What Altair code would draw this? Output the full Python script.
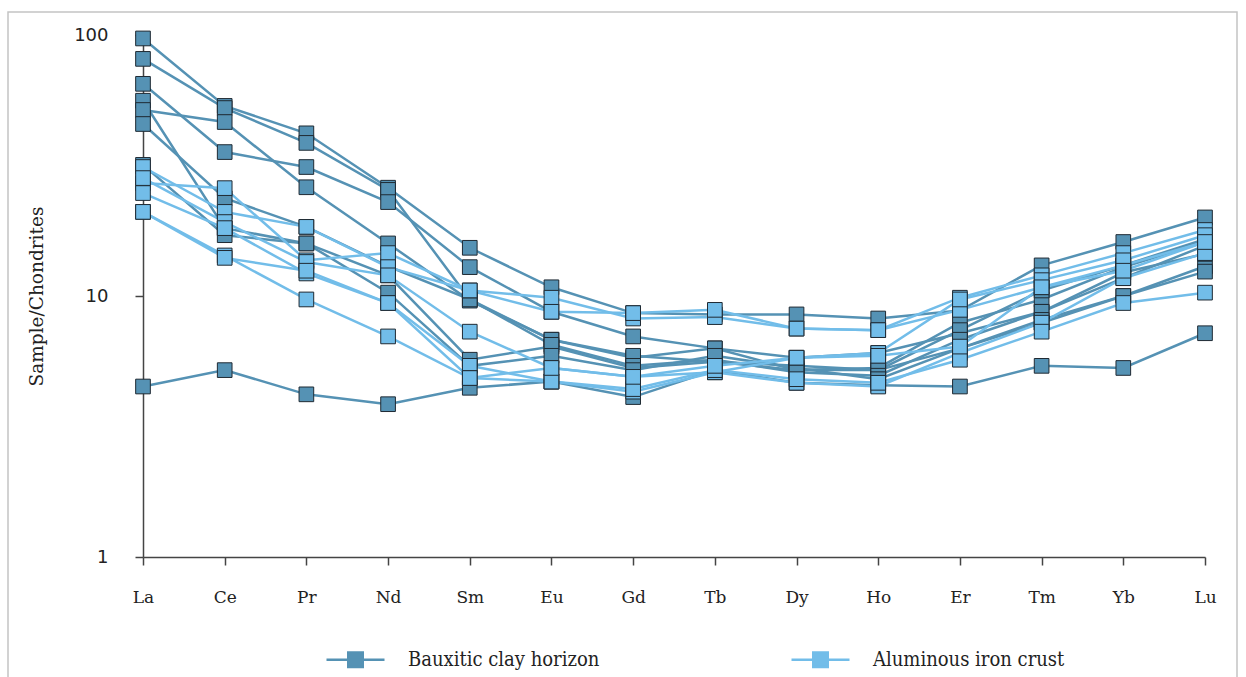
import altair as alt
import pandas as pd

elements = ["La", "Ce", "Pr", "Nd", "Sm", "Eu", "Gd", "Tb", "Dy", "Ho", "Er", "Tm", "Yb", "Lu"]
groups = ["Bauxitic clay horizon", "Aluminous iron crust"]
colors = ["#5592b4", "#72bde9"]

# Bauxitic clay horizon samples (chondrite-normalised)
clay_1 = [97, 53.5, 42, 26, 15.3, 10.8, 8.6, 8.5, 8.5, 8.2, 8.8, 13.1, 16.1, 20]
clay_2 = [81, 52.5, 38.6, 25.5, 9.7, 6.8, 5.8, 6.3, 5.2, 5.3, 7.9, 9.7, 12.9, 16.1]
clay_3 = [65, 35.6, 31.2, 22.9, 12.9, 8.7, 7.0, 6.3, 5.8, 6.05, 7.2, 8.7, 11.7, 15.6]
clay_4 = [56, 18.2, 15.9, 12.0, 5.7, 6.4, 5.3, 5.6, 5.2, 5.2, 6.3, 7.9, 10.0, 13.0]
clay_5 = [51.6, 46.4, 26.1, 15.9, 9.6, 6.8, 5.9, 5.6, 5.4, 5.2, 7.4, 10.5, 13.1, 16.5]
clay_6 = [45.6, 23.7, 18.4, 13.0, 9.7, 6.5, 5.4, 5.7, 5.1, 4.95, 6.8, 8.7, 12.3, 14.5]
clay_7 = [31.8, 17.1, 15.9, 10.3, 5.4, 5.9, 5.2, 5.9, 5.3, 4.8, 6.3, 8.1, 10.0, 12.4]
clay_8 = [4.5, 5.2, 4.2, 3.85, 4.45, 4.7, 4.1, 5.2, 4.65, 4.55, 4.5, 5.4, 5.3, 7.2]

# Aluminous iron crust samples
crust_1 = [27.1, 25.9, 13.7, 14.6, 10.5, 9.85, 8.2, 8.3, 7.5, 7.4, 9.85, 12.0, 14.6, 17.9]
crust_2 = [31.2, 21.0, 18.4, 12.9, 10.5, 8.7, 8.6, 8.85, 7.5, 7.4, 8.85, 10.8, 13.1, 16.1]
crust_3 = [28.3, 19.2, 13.5, 12.0, 7.3, 5.3, 4.9, 5.1, 5.8, 6.05, 9.7, 11.5, 13.7, 17.1]
crust_4 = [24.8, 18.2, 12.2, 9.4, 5.4, 4.7, 4.3, 5.1, 4.65, 4.5, 6.05, 7.9, 11.7, 14.6]
crust_5 = [21.0, 14.3, 9.7, 7.0, 4.85, 4.7, 4.4, 5.2, 4.8, 4.65, 5.7, 7.3, 9.4, 10.3]
crust_6 = [21.0, 14.0, 12.5, 9.4, 4.85, 5.3, 4.9, 5.4, 5.8, 5.9, 6.4, 10.8, 12.5, 16.1]

clay = [clay_1, clay_2, clay_3, clay_4, clay_5, clay_6, clay_7, clay_8]
crust = [crust_1, crust_2, crust_3, crust_4, crust_5, crust_6]

rows = []
for gname, samples in [(groups[0], clay), (groups[1], crust)]:
    for si, vals in enumerate(samples):
        for ei, (el, v) in enumerate(zip(elements, vals)):
            rows.append({"group": gname, "sample": f"{gname} {si + 1}",
                         "element": el, "idx": ei, "value": v})
df = pd.DataFrame(rows)

x_enc = alt.X(
    "element:N", sort=elements,
    scale=alt.Scale(type="point", padding=0),
    axis=alt.Axis(title=None, labelAngle=0, labelFont="DejaVu Serif", labelFontSize=17,
                  labelColor="#222", labelPadding=24, tickSize=8, tickWidth=1.5,
                  tickColor="#444", domainColor="#444", domainWidth=1.5, grid=False),
)
y_enc = alt.Y(
    "value:Q",
    scale=alt.Scale(type="log", domain=[1, 100], nice=False),
    axis=alt.Axis(title="Sample/Chondrites", values=[1, 10, 100], format="d",
                  titleFont="DejaVu Serif", titleFontSize=18.5, titleFontWeight="normal",
                  titleColor="#222", titlePadding=27,
                  labelFont="DejaVu Sans", labelFontSize=18, labelColor="#222",
                  labelPadding=27, tickSize=8, tickWidth=1.5, tickColor="#444",
                  domainColor="#444", domainWidth=1.5, grid=False),
)

color_scale = alt.Scale(domain=groups, range=colors)

legend = alt.Legend(
    orient="none", legendX=182, legendY=594, direction="horizontal", title=None,
    symbolType="M-1,0L1,0M-0.25,-0.25L0.25,-0.25L0.25,0.25L-0.25,0.25Z",
    symbolSize=3364, symbolStrokeWidth=2.5,
    labelFont="DejaVu Serif Condensed", labelFontSize=20, labelColor="#222",
    labelOffset=22, labelLimit=400, columnPadding=186,
)

frame = alt.Chart(pd.DataFrame({"a": [0]})).mark_rect(
    fillOpacity=0, stroke="#c4c4c4", strokeWidth=1.5
).encode(x=alt.value(-135), x2=alt.value(1094), y=alt.value(-23), y2=alt.value(700))

lines = alt.Chart(df).mark_line(strokeWidth=2.5).encode(
    x=x_enc, y=y_enc,
    color=alt.Color("group:N", scale=color_scale, legend=legend),
    detail="sample:N",
    order="idx:Q",
)

points = alt.Chart(df).mark_point(
    shape="square", filled=True, size=215, stroke="#1f2a33", strokeWidth=1, opacity=1
).encode(
    x=x_enc, y=y_enc,
    color=alt.Color("group:N", scale=color_scale, legend=legend),
)

chart = alt.layer(frame, lines, points).properties(
    width=1062, height=522,
    padding={"left": 143, "top": 35, "right": 41, "bottom": 120},
    autosize=alt.AutoSizeParams(type="none"),
    background="white",
).configure_view(stroke="transparent", strokeWidth=0)

chart.save("out.html", embed_options={"renderer": "svg", "actions": False})
